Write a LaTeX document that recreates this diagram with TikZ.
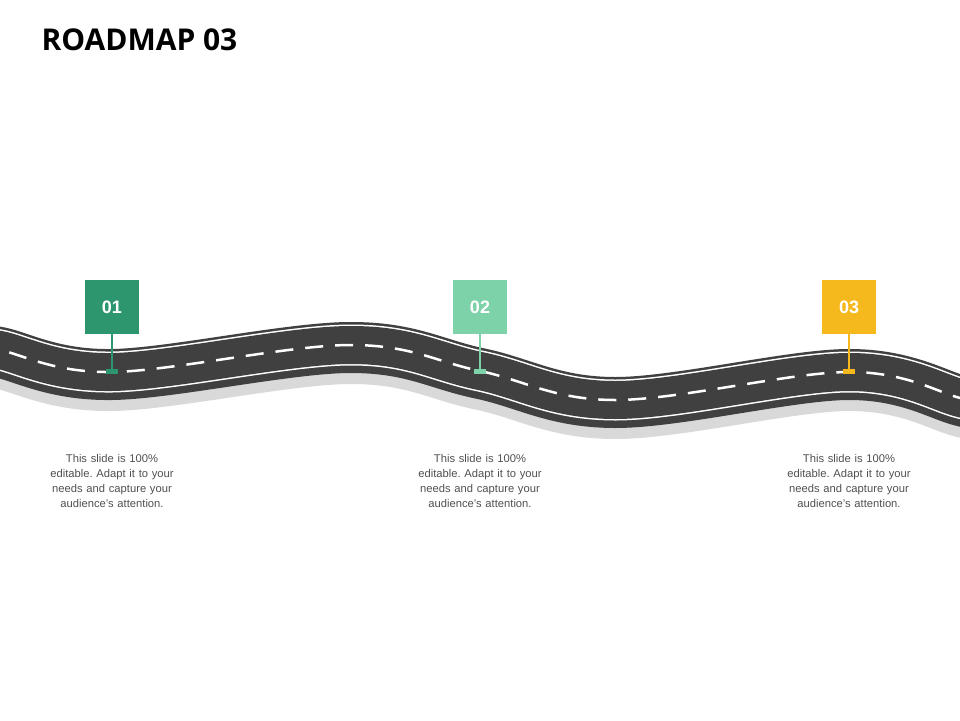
\documentclass[tikz,border=0pt]{standalone}
\usepackage{fontspec}
\setmainfont{Liberation Sans}
\newfontfamily\titlefont{Open Sans}
\definecolor{road}{RGB}{64,64,64}
\definecolor{cA}{RGB}{46,150,110}
\definecolor{cB}{RGB}{125,210,170}
\definecolor{cC}{RGB}{245,185,30}
\definecolor{txt}{RGB}{80,80,80}
\frenchspacing
\begin{document}
\begin{tikzpicture}[x=1pt,y=-1pt,
  flag/.style={minimum width=54pt,minimum height=54pt,inner sep=0pt,text=white,font=\fontsize{18}{20}\selectfont\bfseries},
  desc/.style={align=center,text=txt,font=\fontsize{11.2}{14.8}\selectfont\frenchspacing,text width=150pt}]
\useasboundingbox (0,0) rectangle (960,720);
\def\roadpath{plot[smooth,tension=0.6] coordinates {(-20,346) (0,350) (112,372) (350,345) (480,371) (615,400) (848,372) (960,398) (980,405)}}
\draw[gray!30,line width=46pt] [yshift=-16pt] \roadpath;
\draw[road,line width=46pt] [yshift=-5pt] \roadpath;
\draw[road,line width=46pt] \roadpath;
\draw[white,line width=41pt] \roadpath;
\draw[road,line width=38pt] \roadpath;
\draw[white,line width=2.5pt,dash pattern=on 18pt off 12pt] \roadpath;
\node (title) [anchor=west,font=\titlefont\bfseries\fontsize{30}{34}\selectfont] at (38,40) {ROADMAP 03};
\foreach \n/\x/\y/\c in {1/112/371/cA,2/480/371/cB,3/849/371/cC}{
  \node[flag,fill=\c] (f\n) at (\x,307) {0\n};
  \coordinate (b\n) at (\x,\y);
  \draw[\c,line width=2pt] (f\n.south) -- (b\n);
  \fill[\c] ([xshift=-6pt,yshift=-3pt]b\n) rectangle ([xshift=6pt,yshift=2pt]b\n);
  \node[desc] (d\n) at (\x,481) {This slide is 100\%\\ editable. Adapt it to your\\ needs and capture your\\ audience's attention.};
}
\end{tikzpicture}
\end{document}
